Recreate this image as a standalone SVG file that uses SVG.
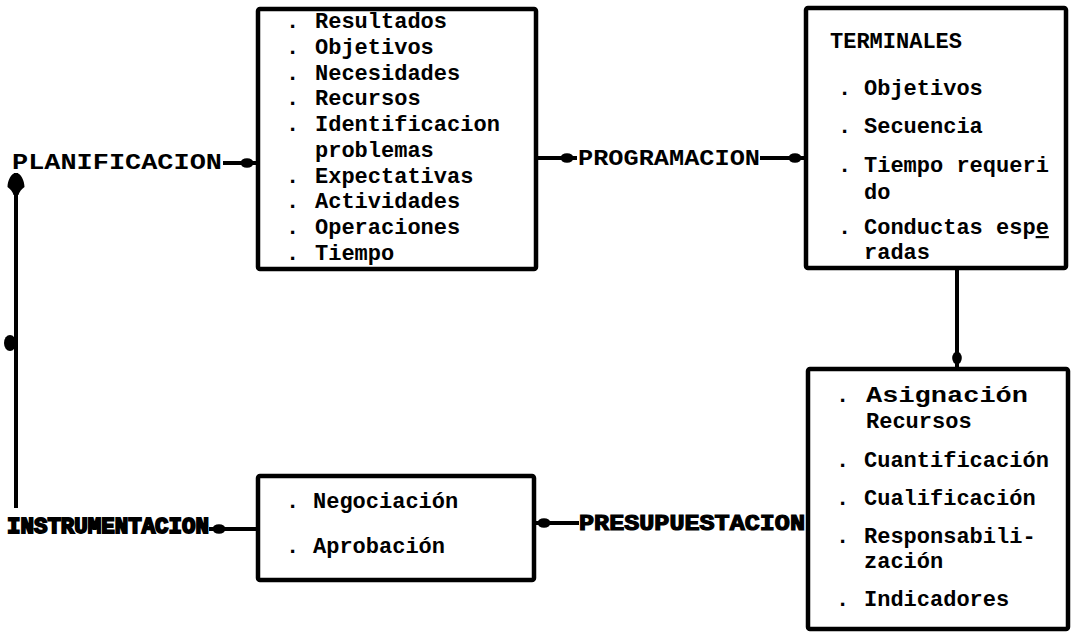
<svg xmlns="http://www.w3.org/2000/svg" width="1074" height="637" viewBox="0 0 1074 637">
<style>
.box{fill:#fff;stroke:#000;stroke-width:4.5}
.t{font-family:"Liberation Mono","DejaVu Sans Mono",monospace;font-weight:bold;font-size:22px;fill:#000}
.lbl{font-family:"Liberation Mono","DejaVu Sans Mono",monospace;font-weight:bold;font-size:22px;fill:#000}
.heavy{stroke:#000;stroke-width:1.2}
.con{fill:none;stroke:#000;stroke-width:4}
</style>
<defs>
<marker id="dot" markerUnits="userSpaceOnUse" orient="auto" refX="0" refY="0" markerWidth="1" markerHeight="1" overflow="visible">
<ellipse cx="-10" cy="0" rx="6.5" ry="4.8" fill="#000"/>
</marker>
<marker id="head" markerUnits="userSpaceOnUse" orient="auto" refX="0" refY="0" markerWidth="1" markerHeight="1" overflow="visible">
<path d="M0,0 C0,-5 -8,-8.5 -14,-8.5 Q-17,-4 -22,-2.5 L-22,2.5 Q-17,4 -14,8.5 C-8,8.5 0,5 0,0 Z" fill="#000"/>
</marker>
</defs>
<rect width="1074" height="637" fill="#fff"/>

<g id="connectors">
<path class="con" d="M223,163 H257" marker-end="url(#dot)"/>
<path class="con" d="M537,158 H577" marker-end="url(#dot)"/>
<path class="con" d="M760,158 H805" marker-end="url(#dot)"/>
<path class="con" d="M957,268 V368" marker-end="url(#dot)"/>
<path class="con" d="M579,523 H534" marker-end="url(#dot)"/>
<path class="con" d="M257,529 H209" marker-end="url(#dot)"/>
<path class="con" d="M16,508 V173" marker-end="url(#head)"/>
<ellipse cx="10" cy="343" rx="6" ry="8" fill="#000"/>
</g>

<g id="planificacion">
<text class="lbl" x="12" y="169" textLength="210" lengthAdjust="spacingAndGlyphs">PLANIFICACION</text>
</g>

<g id="box-planificacion">
<rect class="box" x="258" y="9" width="278" height="260" rx="2"/>
<text class="t" x="286" y="28">.<tspan x="315">Resultados</tspan></text>
<text class="t" x="286" y="54">.<tspan x="315">Objetivos</tspan></text>
<text class="t" x="286" y="80">.<tspan x="315">Necesidades</tspan></text>
<text class="t" x="286" y="105">.<tspan x="315">Recursos</tspan></text>
<text class="t" x="286" y="131">.<tspan x="315">Identificacion</tspan></text>
<text class="t" x="315" y="157">problemas</text>
<text class="t" x="286" y="183">.<tspan x="315">Expectativas</tspan></text>
<text class="t" x="286" y="208">.<tspan x="315">Actividades</tspan></text>
<text class="t" x="286" y="234">.<tspan x="315">Operaciones</tspan></text>
<text class="t" x="286" y="260">.<tspan x="315">Tiempo</tspan></text>
</g>

<g id="programacion">
<text class="lbl" x="578" y="165" textLength="182" lengthAdjust="spacingAndGlyphs">PROGRAMACION</text>
</g>

<g id="box-terminales">
<rect class="box" x="806" y="8" width="260" height="260" rx="2"/>
<text class="t" x="830" y="48">TERMINALES</text>
<text class="t" x="838" y="95">.<tspan x="864">Objetivos</tspan></text>
<text class="t" x="838" y="133">.<tspan x="864">Secuencia</tspan></text>
<text class="t" x="838" y="172">.<tspan x="864">Tiempo requeri</tspan></text>
<text class="t" x="864" y="199">do</text>
<text class="t" x="838" y="234">.<tspan x="864">Conductas esp</tspan><tspan text-decoration="underline">e</tspan></text>
<text class="t" x="864" y="259" font-size="20">radas</text>
</g>

<g id="box-presupuesto">
<rect class="box" x="808" y="369" width="260" height="260" rx="2"/>
<text class="t" x="836" y="402">.</text>
<text class="t" x="866" y="402" font-size="25" textLength="162" lengthAdjust="spacingAndGlyphs">Asignación</text>
<text class="t" x="866" y="428" font-size="20">Recursos</text>
<text class="t" x="836" y="467">.<tspan x="864">Cuantificación</tspan></text>
<text class="t" x="836" y="505">.<tspan x="864">Cualificación</tspan></text>
<text class="t" x="836" y="543">.<tspan x="864">Responsabili-</tspan></text>
<text class="t" x="864" y="568">zación</text>
<text class="t" x="836" y="606">.<tspan x="864">Indicadores</tspan></text>
</g>

<g id="presupuestacion">
<text class="lbl heavy" x="579" y="530" textLength="226" lengthAdjust="spacingAndGlyphs">PRESUPUESTACION</text>
</g>

<g id="box-negociacion">
<rect class="box" x="258" y="476" width="276" height="104" rx="2"/>
<text class="t" x="286" y="508">.<tspan x="313">Negociación</tspan></text>
<text class="t" x="286" y="553">.<tspan x="313">Aprobación</tspan></text>
</g>

<g id="instrumentacion">
<text class="lbl heavy" x="7" y="533" textLength="202" lengthAdjust="spacingAndGlyphs" style="stroke-width:1.8">INSTRUMENTACION</text>
</g>
</svg>
